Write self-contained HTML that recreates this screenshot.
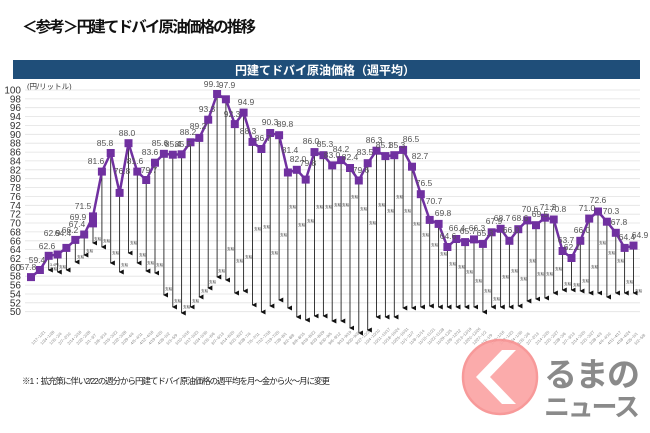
<!DOCTYPE html>
<html><head><meta charset="utf-8"><style>
html,body{margin:0;padding:0;background:#fff;width:650px;height:433px;overflow:hidden}
svg{display:block;font-family:"Liberation Sans","Noto Sans CJK JP",sans-serif}
</style></head><body>
<svg width="650" height="433" viewBox="0 0 650 433" xmlns="http://www.w3.org/2000/svg">
<defs>
<marker id="ar" viewBox="0 0 6 6" refX="3" refY="5" markerWidth="5" markerHeight="5" orient="auto-start-reverse" markerUnits="userSpaceOnUse"><path d="M0,0 L6,0 L3,6 Z" fill="#111"/></marker>
</defs>
<text x="22" y="32" font-size="15.5" font-weight="bold" fill="#111" textLength="234">＜参考＞円建てドバイ原油価格の推移</text>
<rect x="13" y="60" width="627" height="19" fill="#1f4e79"/>
<text x="325" y="74.5" font-size="12" font-weight="bold" fill="#fff" text-anchor="middle">円建てドバイ原油価格（週平均）</text>
<text x="27" y="89" font-size="7.5" fill="#333">(円/リットル)</text>
<g stroke="#e2e2e2" stroke-width="0.8">
<line x1="25" x2="640" y1="90" y2="90"/><line x1="25" x2="640" y1="98.9" y2="98.9"/><line x1="25" x2="640" y1="107.7" y2="107.7"/><line x1="25" x2="640" y1="116.6" y2="116.6"/><line x1="25" x2="640" y1="125.5" y2="125.5"/><line x1="25" x2="640" y1="134.3" y2="134.3"/><line x1="25" x2="640" y1="143.2" y2="143.2"/><line x1="25" x2="640" y1="152.1" y2="152.1"/><line x1="25" x2="640" y1="160.9" y2="160.9"/><line x1="25" x2="640" y1="169.8" y2="169.8"/><line x1="25" x2="640" y1="178.7" y2="178.7"/><line x1="25" x2="640" y1="187.5" y2="187.5"/><line x1="25" x2="640" y1="196.4" y2="196.4"/><line x1="25" x2="640" y1="205.3" y2="205.3"/><line x1="25" x2="640" y1="214.2" y2="214.2"/><line x1="25" x2="640" y1="223" y2="223"/><line x1="25" x2="640" y1="231.9" y2="231.9"/><line x1="25" x2="640" y1="240.8" y2="240.8"/><line x1="25" x2="640" y1="249.6" y2="249.6"/><line x1="25" x2="640" y1="258.5" y2="258.5"/><line x1="25" x2="640" y1="267.4" y2="267.4"/><line x1="25" x2="640" y1="276.2" y2="276.2"/><line x1="25" x2="640" y1="285.1" y2="285.1"/><line x1="25" x2="640" y1="294" y2="294"/><line x1="25" x2="640" y1="302.8" y2="302.8"/><line x1="25" x2="640" y1="311.7" y2="311.7"/>
</g>
<g font-size="10" fill="#333" text-anchor="end">
<text x="21" y="93.5">100</text><text x="21" y="102.4">98</text><text x="21" y="111.2">96</text><text x="21" y="120.1">94</text><text x="21" y="129">92</text><text x="21" y="137.8">90</text><text x="21" y="146.7">88</text><text x="21" y="155.6">86</text><text x="21" y="164.4">84</text><text x="21" y="173.3">82</text><text x="21" y="182.2">80</text><text x="21" y="191">78</text><text x="21" y="199.9">76</text><text x="21" y="208.8">74</text><text x="21" y="217.7">72</text><text x="21" y="226.5">70</text><text x="21" y="235.4">68</text><text x="21" y="244.3">66</text><text x="21" y="253.1">64</text><text x="21" y="262">62</text><text x="21" y="270.9">60</text><text x="21" y="279.7">58</text><text x="21" y="288.6">56</text><text x="21" y="297.5">54</text><text x="21" y="306.3">52</text><text x="21" y="315.2">50</text>
</g>
<g stroke="#222" stroke-width="0.9" marker-end="url(#ar)">
<line x1="48.7" y1="256" x2="48.7" y2="270"/><line x1="57.6" y1="255" x2="57.6" y2="272"/><line x1="66.4" y1="248" x2="66.4" y2="270"/><line x1="75.3" y1="240" x2="75.3" y2="262"/><line x1="84.2" y1="235" x2="84.2" y2="255"/><line x1="93" y1="216" x2="93" y2="243"/><line x1="101.9" y1="172" x2="101.9" y2="247"/><line x1="110.7" y1="153" x2="110.7" y2="263"/><line x1="119.6" y1="193" x2="119.6" y2="272"/><line x1="128.5" y1="143" x2="128.5" y2="253"/><line x1="137.3" y1="172" x2="137.3" y2="263"/><line x1="146.2" y1="180" x2="146.2" y2="271"/><line x1="155" y1="163" x2="155" y2="273"/><line x1="163.9" y1="154" x2="163.9" y2="295"/><line x1="172.8" y1="155" x2="172.8" y2="307"/><line x1="181.6" y1="154" x2="181.6" y2="313"/><line x1="190.5" y1="142" x2="190.5" y2="307"/><line x1="199.3" y1="138" x2="199.3" y2="297"/><line x1="208.2" y1="120" x2="208.2" y2="288"/><line x1="217.1" y1="94" x2="217.1" y2="277"/><line x1="225.9" y1="99" x2="225.9" y2="280"/><line x1="234.8" y1="124" x2="234.8" y2="293"/><line x1="243.6" y1="113" x2="243.6" y2="291"/><line x1="252.5" y1="142" x2="252.5" y2="305"/><line x1="261.4" y1="149" x2="261.4" y2="312"/><line x1="270.2" y1="133" x2="270.2" y2="306"/><line x1="279.1" y1="135" x2="279.1" y2="300"/><line x1="287.9" y1="172" x2="287.9" y2="308"/><line x1="296.8" y1="170" x2="296.8" y2="317"/><line x1="305.7" y1="180" x2="305.7" y2="320"/><line x1="314.5" y1="152" x2="314.5" y2="316"/><line x1="323.4" y1="155" x2="323.4" y2="316"/><line x1="332.2" y1="165" x2="332.2" y2="321"/><line x1="341.1" y1="160" x2="341.1" y2="321"/><line x1="350" y1="168" x2="350" y2="328"/><line x1="358.8" y1="180" x2="358.8" y2="333"/><line x1="367.7" y1="163" x2="367.7" y2="330"/><line x1="376.5" y1="151" x2="376.5" y2="317"/><line x1="385.4" y1="156" x2="385.4" y2="317"/><line x1="394.3" y1="155" x2="394.3" y2="317"/><line x1="403.1" y1="150" x2="403.1" y2="308"/><line x1="412" y1="167" x2="412" y2="308"/><line x1="420.8" y1="194" x2="420.8" y2="307"/><line x1="429.7" y1="220" x2="429.7" y2="306"/><line x1="438.6" y1="224" x2="438.6" y2="307"/><line x1="447.4" y1="247" x2="447.4" y2="307"/><line x1="456.3" y1="239" x2="456.3" y2="307"/><line x1="465.1" y1="242" x2="465.1" y2="307"/><line x1="474" y1="239" x2="474" y2="307"/><line x1="482.9" y1="244" x2="482.9" y2="312"/><line x1="491.7" y1="232" x2="491.7" y2="307"/><line x1="500.6" y1="229" x2="500.6" y2="307"/><line x1="509.4" y1="241" x2="509.4" y2="307"/><line x1="518.3" y1="229" x2="518.3" y2="306"/><line x1="527.2" y1="220" x2="527.2" y2="301"/><line x1="536" y1="225" x2="536" y2="299"/><line x1="544.9" y1="218" x2="544.9" y2="298"/><line x1="553.7" y1="220" x2="553.7" y2="293"/><line x1="562.6" y1="251" x2="562.6" y2="290"/><line x1="571.5" y1="258" x2="571.5" y2="290"/><line x1="580.3" y1="241" x2="580.3" y2="291"/><line x1="589.2" y1="219" x2="589.2" y2="293"/><line x1="598" y1="212" x2="598" y2="293"/><line x1="606.9" y1="222" x2="606.9" y2="297"/><line x1="615.8" y1="233" x2="615.8" y2="293"/><line x1="624.6" y1="248" x2="624.6" y2="293"/><line x1="633.5" y1="246" x2="633.5" y2="293"/>
</g>
<g font-size="3.6" fill="#333">
<text x="50" y="266">3.4円</text><text x="50" y="270">支給</text><text x="59" y="268">支給</text><text x="77" y="258">支給</text><text x="86" y="252">支給</text><text x="94" y="240">支給</text><text x="103" y="242">支給</text><text x="112" y="254">支給</text><text x="121" y="266">支給</text><text x="130" y="244">支給</text><text x="139" y="256">支給</text><text x="147" y="264">支給</text><text x="156" y="266">支給</text><text x="165" y="290">支給</text><text x="174" y="302">支給</text><text x="183" y="308">支給</text><text x="192" y="302">支給</text><text x="201" y="292">支給</text><text x="209" y="283">支給</text><text x="218" y="272">支給</text><text x="227" y="250">支給</text><text x="236" y="262">支給</text><text x="245" y="258">支給</text><text x="254" y="230">支給</text><text x="263" y="228">支給</text><text x="271" y="254">支給</text><text x="280" y="236">支給</text><text x="289" y="208">支給</text><text x="298" y="226">支給</text><text x="307" y="222">支給</text><text x="316" y="208">支給</text><text x="325" y="208">支給</text><text x="334" y="206">支給</text><text x="342" y="206">支給</text><text x="351" y="198">支給</text><text x="360" y="210">支給</text><text x="369" y="224">支給</text><text x="378" y="206">支給</text><text x="387" y="212">支給</text><text x="396" y="198">支給</text><text x="404" y="212">支給</text><text x="413" y="225">支給</text><text x="422" y="236">支給</text><text x="431" y="246">支給</text><text x="440" y="255">支給</text><text x="449" y="265">支給</text><text x="458" y="268">支給</text><text x="466" y="273">支給</text><text x="475" y="282">支給</text><text x="484" y="292">支給</text><text x="493" y="300">支給</text><text x="502" y="278">支給</text><text x="511" y="272">支給</text><text x="520" y="280">支給</text><text x="529" y="262">支給</text><text x="537" y="275">支給</text><text x="546" y="275">支給</text><text x="555" y="270">支給</text><text x="564" y="285">支給</text><text x="573" y="286">支給</text><text x="582" y="282">支給</text><text x="591" y="268">支給</text><text x="599" y="244">支給</text><text x="608" y="254">支給</text><text x="617" y="262">支給</text><text x="626" y="283">支給</text><text x="635" y="292">支給</text>
</g>
<polyline fill="none" stroke="#7030a0" stroke-width="2.5" stroke-linejoin="round" points="31,277.1 39.9,270 48.7,255.8 57.6,254.5 66.4,247.9 75.3,239.9 84.2,234.5 93,216.4 101.9,171.6 110.7,153 119.6,192.9 128.5,143.2 137.3,171.6 146.2,180 155,162.7 163.9,153.8 172.8,154.7 181.6,154.3 190.5,142.3 199.3,137.9 208.2,119.7 217.1,94 225.9,99.3 234.8,124.1 243.6,112.6 252.5,141.9 261.4,149 270.2,133 279.1,135.2 287.9,172.5 296.8,169.8 305.7,179.6 314.5,152.1 323.4,155.2 332.2,165.4 341.1,160.1 350,168 358.8,180.5 367.7,163.2 376.5,150.7 385.4,156.1 394.3,155.2 403.1,149.9 412,166.7 420.8,194.2 429.7,219.9 438.6,223.9 447.4,247 456.3,239 465.1,242.1 474,239.4 482.9,243.9 491.7,232.3 500.6,228.8 509.4,240.8 518.3,229.2 527.2,220.4 536,225.2 544.9,217.7 553.7,219.5 562.6,251 571.5,258 580.3,240.8 589.2,218.6 598,211.5 606.9,221.7 615.8,232.8 624.6,247.9 633.5,245.6"/>
<g fill="#7030a0">
<rect x="27" y="273.1" width="8" height="8"/><rect x="35.9" y="266" width="8" height="8"/><rect x="44.7" y="251.8" width="8" height="8"/><rect x="53.6" y="250.5" width="8" height="8"/><rect x="62.4" y="243.9" width="8" height="8"/><rect x="71.3" y="235.9" width="8" height="8"/><rect x="80.2" y="230.5" width="8" height="8"/><rect x="89" y="212.4" width="8" height="15"/><rect x="97.9" y="167.6" width="8" height="8"/><rect x="106.7" y="149" width="8" height="8"/><rect x="115.6" y="188.9" width="8" height="8"/><rect x="124.5" y="139.2" width="8" height="8"/><rect x="133.3" y="167.6" width="8" height="8"/><rect x="142.2" y="176" width="8" height="8"/><rect x="151" y="158.7" width="8" height="8"/><rect x="159.9" y="149.8" width="8" height="8"/><rect x="168.8" y="150.7" width="8" height="8"/><rect x="177.6" y="150.3" width="8" height="8"/><rect x="186.5" y="138.3" width="8" height="8"/><rect x="195.3" y="133.9" width="8" height="8"/><rect x="204.2" y="115.7" width="8" height="8"/><rect x="213.1" y="90" width="8" height="8"/><rect x="221.9" y="95.3" width="8" height="8"/><rect x="230.8" y="120.1" width="8" height="8"/><rect x="239.6" y="108.6" width="8" height="8"/><rect x="248.5" y="137.9" width="8" height="8"/><rect x="257.4" y="145" width="8" height="8"/><rect x="266.2" y="129" width="8" height="8"/><rect x="275.1" y="131.2" width="8" height="8"/><rect x="283.9" y="168.5" width="8" height="8"/><rect x="292.8" y="165.8" width="8" height="8"/><rect x="301.7" y="175.6" width="8" height="8"/><rect x="310.5" y="148.1" width="8" height="8"/><rect x="319.4" y="151.2" width="8" height="8"/><rect x="328.2" y="161.4" width="8" height="8"/><rect x="337.1" y="156.1" width="8" height="8"/><rect x="346" y="164" width="8" height="8"/><rect x="354.8" y="176.5" width="8" height="8"/><rect x="363.7" y="159.2" width="8" height="8"/><rect x="372.5" y="146.7" width="8" height="8"/><rect x="381.4" y="152.1" width="8" height="8"/><rect x="390.3" y="151.2" width="8" height="8"/><rect x="399.1" y="145.9" width="8" height="8"/><rect x="408" y="162.7" width="8" height="8"/><rect x="416.8" y="190.2" width="8" height="8"/><rect x="425.7" y="215.9" width="8" height="8"/><rect x="434.6" y="219.9" width="8" height="8"/><rect x="443.4" y="243" width="8" height="8"/><rect x="452.3" y="235" width="8" height="8"/><rect x="461.1" y="238.1" width="8" height="8"/><rect x="470" y="235.4" width="8" height="8"/><rect x="478.9" y="239.9" width="8" height="8"/><rect x="487.7" y="228.3" width="8" height="8"/><rect x="496.6" y="224.8" width="8" height="8"/><rect x="505.4" y="236.8" width="8" height="8"/><rect x="514.3" y="225.2" width="8" height="8"/><rect x="523.2" y="216.4" width="8" height="8"/><rect x="532" y="221.2" width="8" height="8"/><rect x="540.9" y="213.7" width="8" height="8"/><rect x="549.7" y="215.5" width="8" height="8"/><rect x="558.6" y="247" width="8" height="8"/><rect x="567.5" y="254" width="8" height="8"/><rect x="576.3" y="236.8" width="8" height="8"/><rect x="585.2" y="214.6" width="8" height="8"/><rect x="594" y="207.5" width="8" height="8"/><rect x="602.9" y="217.7" width="8" height="8"/><rect x="611.8" y="228.8" width="8" height="8"/><rect x="620.6" y="243.9" width="8" height="8"/><rect x="629.5" y="241.6" width="8" height="8"/>
</g>
<g font-size="8.5" fill="#555" text-anchor="middle">
<text x="28" y="270">57.8</text><text x="37" y="263">59.4</text><text x="47" y="249">62.6</text><text x="52" y="236">62.9</text><text x="63" y="236">64.4</text><text x="70" y="233">66.2</text><text x="77" y="227">67.4</text><text x="78" y="220">69.9</text><text x="83" y="209">71.5</text><text x="96" y="164">81.6</text><text x="105" y="146">85.8</text><text x="122" y="174">76.8</text><text x="127" y="136">88.0</text><text x="135" y="164">81.6</text><text x="149" y="173">79.7</text><text x="150" y="155">83.6</text><text x="160" y="146">85.6</text><text x="173" y="147">85.4</text><text x="183" y="147">85.5</text><text x="188" y="135">88.2</text><text x="198" y="129">89.2</text><text x="207" y="112">93.3</text><text x="212" y="87">99.1</text><text x="227" y="88">97.9</text><text x="232" y="117">92.3</text><text x="246" y="105">94.9</text><text x="248" y="134">88.3</text><text x="263" y="141">86.7</text><text x="270" y="125">90.3</text><text x="285" y="127">89.8</text><text x="290" y="153">81.4</text><text x="298" y="162">82.0</text><text x="308" y="166">79.8</text><text x="311" y="144">86.0</text><text x="325" y="147">85.3</text><text x="332" y="158">83.0</text><text x="341" y="152">84.2</text><text x="350" y="160">82.4</text><text x="361" y="173">79.6</text><text x="365" y="155">83.5</text><text x="374" y="143">86.3</text><text x="384" y="148">85.1</text><text x="397" y="148">85.3</text><text x="411" y="142">86.5</text><text x="420" y="159">82.7</text><text x="424" y="186">76.5</text><text x="434" y="204">70.7</text><text x="443" y="216">69.8</text><text x="448" y="239">64.6</text><text x="457" y="231">66.4</text><text x="468" y="234">65.7</text><text x="477" y="231">66.3</text><text x="485" y="236">65.3</text><text x="494" y="224">67.9</text><text x="502" y="221">68.7</text><text x="511" y="233">66.0</text><text x="520" y="221">68.6</text><text x="530" y="212">70.6</text><text x="540" y="217">69.5</text><text x="548" y="210">71.2</text><text x="558" y="212">70.8</text><text x="566" y="243">63.7</text><text x="572" y="250">62.1</text><text x="582" y="233">66.0</text><text x="587" y="211">71.0</text><text x="598" y="203">72.6</text><text x="611" y="214">70.3</text><text x="619" y="225">67.8</text><text x="627" y="240">64.4</text><text x="640" y="238">64.9</text>
</g>
<g font-size="4" fill="#888">
<text transform="translate(33,345) rotate(-45)">1/17~1/21</text><text transform="translate(42,345) rotate(-45)">1/24~1/28</text><text transform="translate(51,345) rotate(-45)">1/31~2/4</text><text transform="translate(60,345) rotate(-45)">2/7~2/10</text><text transform="translate(69,345) rotate(-45)">2/14~2/18</text><text transform="translate(78,345) rotate(-45)">2/22~2/28</text><text transform="translate(87,345) rotate(-45)">3/1~3/7</text><text transform="translate(96,345) rotate(-45)">3/8~3/14</text><text transform="translate(105,345) rotate(-45)">3/15~3/22</text><text transform="translate(114,345) rotate(-45)">3/22~3/28</text><text transform="translate(123,345) rotate(-45)">3/29~4/4</text><text transform="translate(132,345) rotate(-45)">4/5~4/11</text><text transform="translate(141,345) rotate(-45)">4/12~4/18</text><text transform="translate(150,345) rotate(-45)">4/19~4/25</text><text transform="translate(159,345) rotate(-45)">4/26~5/2</text><text transform="translate(168,345) rotate(-45)">5/3~5/9</text><text transform="translate(177,345) rotate(-45)">5/10~5/16</text><text transform="translate(186,345) rotate(-45)">5/17~5/23</text><text transform="translate(195,345) rotate(-45)">5/24~5/30</text><text transform="translate(204,345) rotate(-45)">5/31~6/6</text><text transform="translate(213,345) rotate(-45)">6/7~6/13</text><text transform="translate(222,345) rotate(-45)">6/14~6/20</text><text transform="translate(231,345) rotate(-45)">6/21~6/27</text><text transform="translate(240,345) rotate(-45)">6/28~7/4</text><text transform="translate(249,345) rotate(-45)">7/5~7/11</text><text transform="translate(258,345) rotate(-45)">7/12~7/18</text><text transform="translate(267,345) rotate(-45)">7/19~7/25</text><text transform="translate(276,345) rotate(-45)">7/26~8/1</text><text transform="translate(285,345) rotate(-45)">8/2~8/8</text><text transform="translate(294,345) rotate(-45)">8/9~8/15</text><text transform="translate(303,345) rotate(-45)">8/16~8/22</text><text transform="translate(312,345) rotate(-45)">8/23~8/29</text><text transform="translate(321,345) rotate(-45)">8/30~9/5</text><text transform="translate(330,345) rotate(-45)">9/6~9/12</text><text transform="translate(339,345) rotate(-45)">9/13~9/19</text><text transform="translate(348,345) rotate(-45)">9/20~9/26</text><text transform="translate(357,345) rotate(-45)">9/27~10/3</text><text transform="translate(366,345) rotate(-45)">10/4~10/10</text><text transform="translate(375,345) rotate(-45)">10/11~10/17</text><text transform="translate(384,345) rotate(-45)">10/18~10/24</text><text transform="translate(393,345) rotate(-45)">10/25~10/31</text><text transform="translate(402,345) rotate(-45)">11/1~11/7</text><text transform="translate(411,345) rotate(-45)">11/8~11/14</text><text transform="translate(420,345) rotate(-45)">11/15~11/21</text><text transform="translate(429,345) rotate(-45)">11/22~11/28</text><text transform="translate(438,345) rotate(-45)">11/29~12/5</text><text transform="translate(447,345) rotate(-45)">12/6~12/12</text><text transform="translate(456,345) rotate(-45)">12/13~12/19</text><text transform="translate(465,345) rotate(-45)">12/20~12/26</text><text transform="translate(474,345) rotate(-45)">12/27~1/2</text><text transform="translate(483,345) rotate(-45)">1/3~1/9</text><text transform="translate(492,345) rotate(-45)">1/10~1/16</text><text transform="translate(501,345) rotate(-45)">1/17~1/23</text><text transform="translate(510,345) rotate(-45)">1/24~1/30</text><text transform="translate(519,345) rotate(-45)">1/31~2/6</text><text transform="translate(528,345) rotate(-45)">2/7~2/13</text><text transform="translate(537,345) rotate(-45)">2/14~2/20</text><text transform="translate(546,345) rotate(-45)">2/21~2/27</text><text transform="translate(555,345) rotate(-45)">2/28~3/6</text><text transform="translate(564,345) rotate(-45)">3/7~3/13</text><text transform="translate(573,345) rotate(-45)">3/14~3/20</text><text transform="translate(582,345) rotate(-45)">3/21~3/27</text><text transform="translate(591,345) rotate(-45)">3/28~4/3</text><text transform="translate(600,345) rotate(-45)">4/4~4/10</text><text transform="translate(609,345) rotate(-45)">4/11~4/17</text><text transform="translate(618,345) rotate(-45)">4/18~4/24</text><text transform="translate(627,345) rotate(-45)">4/25~5/1</text><text transform="translate(636,345) rotate(-45)">5/2~5/8</text>
</g>
<text x="22" y="384" font-size="8.5" fill="#222" textLength="308">※1：拡充策に伴い2/22の週分から円建てドバイ原油価格の週平均を月～金から火～月に変更</text>
<g opacity="0.9">
<circle cx="500" cy="377" r="37" fill="#fba3a3" stroke="#f78f8f" stroke-width="2.5"/>
<path d="M502,350 L476,377 L502,404 L516,404 L490,377 L516,350 Z" fill="#fff"/>
</g>
<text x="544" y="386" font-size="33" font-weight="bold" fill="#8a8a8a" textLength="96">るまの</text>
<text x="544" y="416" font-size="26" font-weight="bold" fill="#8a8a8a" textLength="96">ニュース</text>
</svg>
</body></html>
